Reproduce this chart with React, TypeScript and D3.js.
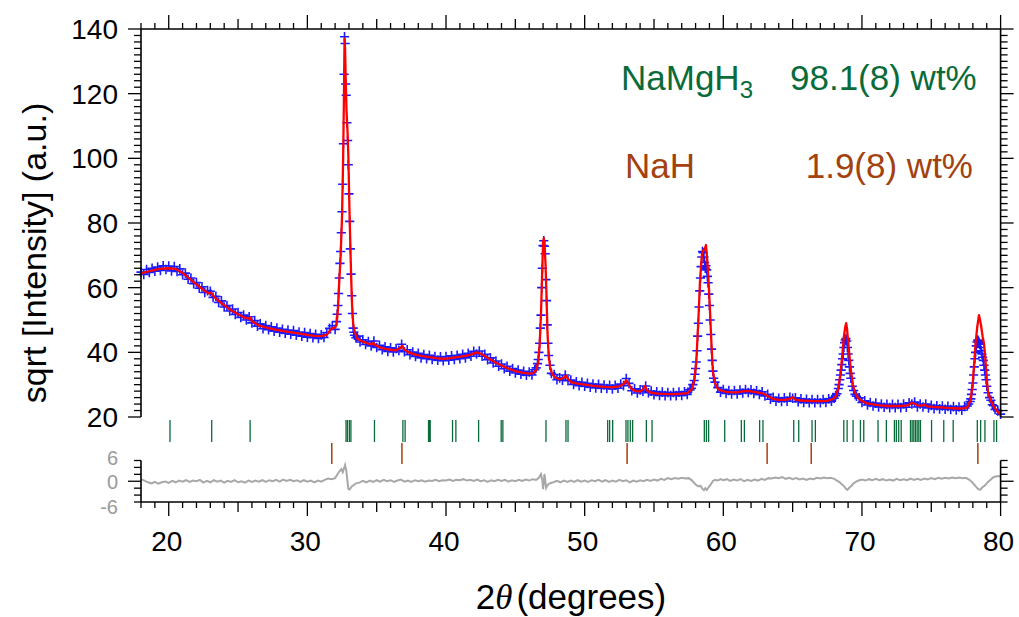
import React from "react";
import * as d3 from "d3";

// ---------- DATA ----------
const xTickLabels = [20, 30, 40, 50, 60, 70, 80];
const yTickLabels = [20, 40, 60, 80, 100, 120, 140];
const diffTickLabels = [6, 0, -6];

// calculated profile [2theta, sqrt(I)]
const calculated: [number, number][] = [
  [18.0, 64.4], [18.5, 65.0], [19.0, 65.5], [19.5, 65.9], [20.0, 66.0], [20.5, 65.8], [21.0, 64.6], [21.5, 62.8],
  [22.0, 61.0], [22.5, 59.3], [22.9, 58.2], [23.05, 58.5], [23.2, 57.5], [23.6, 55.9], [24.0, 54.6], [24.5, 53.0],
  [25.0, 51.8], [25.5, 50.7], [25.8, 50.4], [25.9, 50.8], [26.0, 49.6], [26.5, 48.3], [27.0, 47.7], [27.5, 47.2],
  [28.0, 46.8], [28.5, 46.4], [29.0, 46.1], [29.5, 45.8], [30.0, 45.4], [30.5, 45.1], [31.0, 45.0], [31.4, 45.4],
  [31.6, 46.5], [31.8, 47.5], [32.0, 47.6], [32.1, 48.5], [32.2, 53], [32.3, 62], [32.4, 70], [32.5, 82],
  [32.58, 100], [32.64, 120], [32.68, 137], [32.72, 134], [32.76, 125], [32.82, 115], [32.9, 108], [32.96, 100],
  [33.03, 85], [33.1, 73], [33.16, 63], [33.22, 55], [33.3, 49], [33.4, 46.5], [33.6, 44.2], [34.0, 43.3],
  [34.4, 42.7], [34.65, 42.5], [34.75, 43.0], [34.9, 42.3], [35.2, 41.6], [35.6, 41.1], [36.0, 40.8], [36.4, 40.6],
  [36.7, 41.4], [36.85, 42.0], [37.0, 40.8], [37.3, 40.0], [37.8, 39.3], [38.3, 38.8], [38.8, 38.5], [39.3, 38.2],
  [39.8, 38.0], [40.3, 38.2], [40.8, 38.5], [41.3, 38.8], [41.8, 39.3], [42.2, 40.0], [42.5, 39.6], [43.0, 38.3],
  [43.5, 37.0], [44.0, 35.9], [44.5, 35.0], [45.0, 34.2], [45.5, 33.7], [46.0, 33.4], [46.3, 33.6], [46.5, 34.5],
  [46.65, 37], [46.75, 42], [46.85, 52], [46.93, 64], [47.0, 74], [47.05, 75.3], [47.1, 74], [47.18, 67],
  [47.25, 57], [47.32, 46], [47.4, 39.5], [47.5, 35.5], [47.65, 33.3], [47.9, 32.2], [48.2, 31.6], [48.5, 32.2],
  [48.65, 32.8], [48.8, 31.8], [49.0, 30.8], [49.5, 30.3], [50.0, 30.0], [50.5, 29.7], [51.0, 29.5], [51.5, 29.3],
  [52.0, 29.2], [52.5, 29.5], [52.8, 30.2], [53.0, 31.4], [53.15, 30.3], [53.4, 28.6], [53.7, 28.0], [54.0, 27.9],
  [54.2, 28.5], [54.35, 29.6], [54.5, 28.2], [54.8, 27.5], [55.3, 27.2], [56.0, 27.1], [56.5, 27.1], [57.0, 27.2],
  [57.4, 27.4], [57.7, 28.5], [57.9, 31], [58.05, 37], [58.2, 50], [58.32, 62], [58.45, 70], [58.55, 71.5],
  [58.65, 71.8], [58.75, 73.2], [58.85, 68], [58.95, 61], [59.05, 52], [59.15, 42], [59.25, 34], [59.4, 30.5],
  [59.6, 28.8], [59.8, 28.2], [60.2, 27.8], [60.6, 27.6], [61.0, 27.6], [61.4, 27.9], [61.8, 28.1], [62.2, 27.8],
  [62.6, 27.5], [62.9, 27.2], [63.2, 26.5], [63.6, 25.6], [64.0, 25.3], [64.4, 25.3], [64.8, 25.6], [65.0, 26.1],
  [65.2, 25.4], [65.6, 25.1], [66.0, 25.0], [66.5, 24.9], [67.0, 24.9], [67.5, 25.0], [67.9, 25.5], [68.1, 26.3],
  [68.3, 29], [68.45, 33.5], [68.6, 40], [68.7, 45], [68.8, 48], [68.86, 49], [68.92, 47.5], [69.0, 43.5],
  [69.1, 39], [69.2, 34.5], [69.35, 30], [69.5, 27.5], [69.7, 26], [69.9, 25.2], [70.3, 24.3], [70.8, 23.9],
  [71.3, 23.6], [71.8, 23.4], [72.3, 23.4], [72.8, 23.4], [73.3, 23.6], [73.6, 24.4], [73.8, 24.1], [74.0, 23.6],
  [74.3, 23.5], [74.5, 23.8], [74.7, 23.3], [75.2, 23.1], [75.7, 23.0], [76.2, 22.8], [76.7, 22.7], [77.2, 22.6],
  [77.6, 23.0], [77.85, 25.5], [78.0, 31], [78.1, 37], [78.2, 43], [78.32, 48], [78.44, 51.5], [78.52, 50],
  [78.6, 48], [78.7, 45], [78.8, 42.8], [78.9, 38], [79.0, 32], [79.1, 27.5], [79.3, 25], [79.5, 23.3],
  [79.75, 21.8], [80.0, 20.6],
];

// observed points [2theta, sqrt(I)]
const observed: [number, number][] = [
  [18.0, 64.8], [18.2, 64.1], [18.4, 65.6], [18.6, 64.7], [18.8, 66.0], [19.0, 65.1], [19.2, 66.4], [19.4, 65.3],
  [19.6, 66.8], [19.8, 65.6], [20.0, 66.7], [20.2, 65.2], [20.4, 66.5], [20.6, 65.0], [20.8, 65.8], [21.0, 64.0],
  [21.2, 64.5], [21.4, 62.6], [21.6, 63.0], [21.8, 61.2], [22.0, 61.6], [22.2, 59.8], [22.4, 60.3], [22.6, 58.5],
  [22.8, 59.1], [23.0, 58.9], [23.2, 57.0], [23.4, 57.3], [23.6, 55.4], [23.8, 55.9], [24.0, 54.0], [24.2, 54.5],
  [24.4, 52.8], [24.6, 53.4], [24.8, 51.7], [25.0, 52.3], [25.2, 50.8], [25.4, 51.5], [25.6, 50.0], [25.8, 51.0],
  [26.0, 49.1], [26.2, 49.8], [26.4, 48.1], [26.6, 48.8], [26.8, 47.3], [27.0, 48.3], [27.2, 47.0], [27.4, 47.9],
  [27.6, 46.5], [27.8, 47.5], [28.0, 46.2], [28.2, 47.1], [28.4, 45.9], [28.6, 46.9], [28.8, 45.6], [29.0, 46.7],
  [29.2, 45.3], [29.4, 46.3], [29.6, 45.0], [29.8, 46.1], [30.0, 44.7], [30.2, 45.8], [30.4, 44.5], [30.6, 45.6],
  [30.8, 44.3], [31.0, 45.4], [31.2, 44.6], [31.4, 46.1], [31.6, 47.4], [31.8, 48.2], [32.0, 47.1], [32.1, 49.5],
  [32.15, 51.8], [32.2, 54.5], [32.25, 58.2], [32.3, 63.0], [32.35, 67.5], [32.4, 71.2], [32.45, 77.0], [32.5, 83.5],
  [32.55, 92.0], [32.6, 104.5], [32.65, 126.0], [32.68, 137.6], [32.72, 135.5], [32.76, 123.0], [32.8, 119.5], [32.85, 111.0],
  [32.9, 105.5], [32.95, 98.0], [33.0, 89.0], [33.05, 80.5], [33.1, 72.0], [33.15, 64.2], [33.2, 57.5], [33.25, 52.0],
  [33.3, 47.5], [33.35, 46.2], [33.4, 45.3], [33.5, 44.5], [33.6, 45.0], [33.8, 43.2], [34.0, 43.9], [34.2, 42.4],
  [34.4, 43.3], [34.6, 42.0], [34.8, 43.5], [35.0, 41.5], [35.2, 42.2], [35.4, 40.8], [35.6, 41.7], [35.8, 40.3],
  [36.0, 41.4], [36.2, 40.1], [36.4, 41.2], [36.6, 40.6], [36.8, 42.5], [37.0, 40.2], [37.2, 40.8], [37.4, 39.3],
  [37.6, 40.1], [37.8, 38.7], [38.0, 39.7], [38.2, 38.3], [38.4, 39.3], [38.6, 38.0], [38.8, 39.1], [39.0, 37.8],
  [39.2, 38.7], [39.4, 37.6], [39.6, 38.6], [39.8, 37.4], [40.0, 38.7], [40.2, 37.6], [40.4, 38.9], [40.6, 37.8],
  [40.8, 39.1], [41.0, 38.0], [41.2, 39.4], [41.4, 38.3], [41.6, 39.7], [41.8, 38.8], [42.0, 40.3], [42.2, 39.5],
  [42.4, 40.4], [42.6, 38.8], [42.8, 39.4], [43.0, 37.7], [43.2, 38.3], [43.4, 36.7], [43.6, 37.3], [43.8, 35.7],
  [44.0, 36.4], [44.2, 34.9], [44.4, 35.7], [44.6, 34.2], [44.8, 35.0], [45.0, 33.6], [45.2, 34.5], [45.4, 33.2],
  [45.6, 34.1], [45.8, 32.9], [46.0, 33.9], [46.2, 33.0], [46.4, 34.6], [46.5, 35.2], [46.6, 36.5], [46.65, 37.8],
  [46.7, 40.0], [46.75, 42.8], [46.8, 47.5], [46.85, 51.5], [46.9, 60.0], [46.95, 66.0], [47.0, 73.0], [47.05, 74.5],
  [47.1, 72.8], [47.15, 70.5], [47.2, 62.5], [47.25, 56.0], [47.3, 48.5], [47.35, 42.8], [47.4, 39.0], [47.5, 36.0],
  [47.6, 33.5], [47.8, 33.1], [48.0, 31.5], [48.2, 32.1], [48.4, 31.4], [48.6, 33.0], [48.8, 31.2], [49.0, 31.4],
  [49.2, 30.1], [49.4, 30.9], [49.6, 29.7], [49.8, 30.7], [50.0, 29.5], [50.2, 30.4], [50.4, 29.2], [50.6, 30.2],
  [50.8, 29.0], [51.0, 30.1], [51.2, 28.9], [51.4, 29.9], [51.6, 28.8], [51.8, 29.8], [52.0, 28.7], [52.2, 29.8],
  [52.4, 28.9], [52.6, 30.2], [52.8, 29.7], [53.0, 31.9], [53.2, 30.4], [53.4, 28.1], [53.6, 28.7], [53.8, 27.4],
  [54.0, 28.4], [54.2, 28.0], [54.4, 29.6], [54.6, 27.5], [54.8, 28.0], [55.0, 26.9], [55.2, 27.8], [55.4, 26.7],
  [55.6, 27.7], [55.8, 26.6], [56.0, 27.6], [56.2, 26.6], [56.4, 27.6], [56.6, 26.6], [56.8, 27.7], [57.0, 26.7],
  [57.2, 27.8], [57.4, 27.0], [57.6, 28.4], [57.7, 28.9], [57.8, 30.0], [57.9, 31.3], [57.95, 33.2], [58.0, 35.0],
  [58.05, 37.0], [58.1, 40.5], [58.15, 45.0], [58.2, 49.0], [58.25, 54.0], [58.3, 59.0], [58.35, 63.0], [58.4, 66.5],
  [58.45, 69.5], [58.5, 71.2], [58.55, 70.8], [58.6, 69.5], [58.65, 67.8], [58.7, 66.0], [58.75, 66.8], [58.8, 65.5],
  [58.85, 63.5], [58.9, 61.5], [58.95, 58.0], [59.0, 54.5], [59.05, 50.0], [59.1, 45.5], [59.15, 41.0], [59.2, 37.5],
  [59.25, 34.2], [59.3, 32.0], [59.4, 30.8], [59.6, 29.1], [59.8, 27.7], [60.0, 28.5], [60.2, 27.3], [60.4, 28.2],
  [60.6, 27.1], [60.8, 28.2], [61.0, 27.1], [61.2, 28.3], [61.4, 27.4], [61.6, 28.5], [61.8, 27.6], [62.0, 28.4],
  [62.2, 27.3], [62.4, 28.1], [62.6, 27.0], [62.8, 27.8], [63.0, 26.5], [63.2, 27.0], [63.4, 25.5], [63.6, 26.1],
  [63.8, 24.9], [64.0, 25.8], [64.2, 24.8], [64.4, 25.9], [64.6, 24.9], [64.8, 26.1], [65.0, 25.8], [65.2, 25.9],
  [65.4, 24.7], [65.6, 25.6], [65.8, 24.5], [66.0, 25.5], [66.2, 24.4], [66.4, 25.4], [66.6, 24.4], [66.8, 25.4],
  [67.0, 24.4], [67.2, 25.4], [67.4, 24.5], [67.6, 25.6], [67.8, 24.9], [67.9, 26.0], [68.0, 25.8], [68.1, 26.6],
  [68.2, 27.2], [68.3, 28.8], [68.35, 30.0], [68.4, 31.5], [68.45, 33.0], [68.5, 34.5], [68.55, 36.2], [68.6, 38.0],
  [68.65, 39.5], [68.7, 41.5], [68.75, 43.0], [68.8, 43.8], [68.85, 44.3], [68.9, 43.5], [68.95, 41.5], [69.0, 39.5],
  [69.05, 37.5], [69.1, 35.5], [69.15, 33.5], [69.2, 32.0], [69.3, 29.5], [69.4, 28.2], [69.5, 27.0], [69.6, 26.4],
  [69.8, 25.9], [70.0, 24.5], [70.2, 25.0], [70.4, 23.7], [70.6, 24.5], [70.8, 23.4], [71.0, 24.3], [71.2, 23.1],
  [71.4, 24.0], [71.6, 23.0], [71.8, 23.9], [72.0, 22.9], [72.2, 23.9], [72.4, 22.9], [72.6, 23.9], [72.8, 22.9],
  [73.0, 24.0], [73.2, 23.0], [73.4, 24.4], [73.6, 24.0], [73.8, 24.6], [74.0, 23.1], [74.2, 24.0], [74.4, 23.1],
  [74.6, 24.0], [74.8, 22.8], [75.0, 23.6], [75.2, 22.6], [75.4, 23.5], [75.6, 22.5], [75.8, 23.4], [76.0, 22.4],
  [76.2, 23.3], [76.4, 22.3], [76.6, 23.2], [76.8, 22.2], [77.0, 23.1], [77.2, 22.1], [77.4, 23.3], [77.6, 23.4],
  [77.7, 24.0], [77.8, 24.8], [77.85, 25.6], [77.9, 27.0], [77.95, 28.5], [78.0, 30.5], [78.05, 33.0], [78.1, 35.5],
  [78.15, 38.0], [78.2, 40.0], [78.25, 42.0], [78.3, 43.2], [78.35, 43.8], [78.4, 43.5], [78.45, 43.0], [78.5, 42.5],
  [78.55, 41.5], [78.6, 40.5], [78.65, 39.5], [78.7, 38.5], [78.75, 37.5], [78.8, 36.0], [78.85, 34.5], [78.9, 33.0],
  [78.95, 31.5], [79.0, 29.5], [79.1, 27.5], [79.2, 26.0], [79.3, 25.2], [79.4, 23.8], [79.5, 23.5], [79.6, 22.3],
  [79.8, 21.9], [80.0, 20.9],
];

// difference curve [2theta, obs-calc]
const difference: [number, number][] = [
  [18.0, 0.6], [18.25, 0.2], [18.5, -0.3], [18.75, -0.6], [19.0, -0.2], [19.25, -0.7], [19.5, -0.3], [19.75, -0.1],
  [20.0, -0.5], [20.25, 0.1], [20.5, -0.3], [20.75, 0.2], [21.0, -0.1], [21.25, 0.3], [21.5, -0.2], [21.75, 0.2],
  [22.0, 0.0], [22.25, 0.4], [22.5, -0.4], [22.75, 0.1], [23.0, -0.3], [23.25, 0.3], [23.5, -0.1], [23.75, 0.2],
  [24.0, -0.4], [24.25, 0.1], [24.5, -0.2], [24.75, 0.3], [25.0, -0.3], [25.25, 0.0], [25.5, -0.4], [25.75, 0.2],
  [26.0, -0.2], [26.25, 0.2], [26.5, -0.1], [26.75, 0.3], [27.0, -0.2], [27.25, 0.3], [27.5, 0.0], [27.75, 0.4],
  [28.0, -0.1], [28.25, 0.5], [28.5, 0.1], [28.75, 0.4], [29.0, 0.0], [29.25, 0.3], [29.5, -0.2], [29.75, 0.3],
  [30.0, -0.1], [30.25, 0.2], [30.5, -0.3], [30.75, 0.2], [31.0, -0.1], [31.25, 0.4], [31.5, 0.8], [31.75, 0.6],
  [32.0, 0.9], [32.15, 1.9], [32.3, 2.8], [32.45, 3.5], [32.55, 2.6], [32.65, 3.8], [32.72, 4.7], [32.8, 3.3],
  [32.88, 0.5], [32.95, -2.2], [33.05, -2.4], [33.2, -1.5], [33.35, -1.1], [33.5, -0.6], [33.75, -0.4], [34.0, 0.1],
  [34.25, -0.3], [34.5, 0.2], [34.75, -0.2], [35.0, 0.3], [35.25, -0.1], [35.5, 0.4], [35.75, 0.0], [36.0, 0.3],
  [36.25, -0.2], [36.5, 0.2], [36.75, 0.5], [37.0, -0.1], [37.25, 0.2], [37.5, -0.2], [37.75, 0.3], [38.0, 0.0],
  [38.25, 0.3], [38.5, -0.1], [38.75, 0.2], [39.0, 0.1], [39.25, 0.4], [39.5, 0.0], [39.75, 0.3], [40.0, 0.2],
  [40.25, 0.5], [40.5, 0.1], [40.75, 0.4], [41.0, 0.3], [41.25, 0.6], [41.5, 0.2], [41.75, 0.4], [42.0, 0.1],
  [42.25, 0.5], [42.5, 0.0], [42.75, 0.3], [43.0, -0.2], [43.25, 0.3], [43.5, 0.0], [43.75, 0.4], [44.0, 0.1],
  [44.25, 0.4], [44.5, -0.1], [44.75, 0.3], [45.0, 0.0], [45.25, 0.4], [45.5, 0.1], [45.75, 0.5], [46.0, 0.2],
  [46.25, 0.6], [46.5, 0.4], [46.7, 1.0], [46.85, 2.1], [46.95, 0.2], [47.0, -2.3], [47.05, -0.5], [47.1, 2.1],
  [47.17, 0.0], [47.22, -1.9], [47.3, -1.3], [47.4, -0.8], [47.55, -0.5], [47.75, -0.3], [48.0, 0.1], [48.25, -0.3],
  [48.5, 0.2], [48.75, -0.2], [49.0, 0.2], [49.25, -0.2], [49.5, 0.3], [49.75, -0.1], [50.0, 0.2], [50.25, -0.2],
  [50.5, 0.3], [50.75, 0.0], [51.0, 0.4], [51.25, -0.1], [51.5, 0.3], [51.75, -0.2], [52.0, 0.2], [52.25, -0.1],
  [52.5, 0.4], [52.75, 0.0], [53.0, 0.3], [53.25, -0.3], [53.5, 0.2], [53.75, -0.1], [54.0, 0.3], [54.25, 0.0],
  [54.5, 0.4], [54.75, 0.1], [55.0, 0.5], [55.25, 0.2], [55.5, 0.7], [55.75, 0.4], [56.0, 0.9], [56.25, 0.6],
  [56.5, 0.9], [56.75, 0.7], [57.0, 1.0], [57.25, 0.8], [57.5, 0.9], [57.75, 0.2], [57.9, -0.5], [58.05, -1.1],
  [58.2, -1.5], [58.35, -1.3], [58.5, -2.2], [58.6, -2.6], [58.7, -2.0], [58.8, -2.5], [58.95, -1.7], [59.1, -0.9],
  [59.25, 0.1], [59.4, 0.4], [59.6, 0.2], [59.8, 0.6], [60.0, 0.3], [60.25, 0.6], [60.5, 0.1], [60.75, 0.5],
  [61.0, 0.2], [61.25, 0.6], [61.5, 0.0], [61.75, 0.4], [62.0, 0.1], [62.25, 0.5], [62.5, 0.2], [62.75, 0.7],
  [63.0, 0.4], [63.25, 0.9], [63.5, 0.8], [63.75, 1.1], [64.0, 0.9], [64.25, 1.2], [64.5, 0.7], [64.75, 1.0],
  [65.0, 0.6], [65.25, 0.9], [65.5, 0.5], [65.75, 0.8], [66.0, 0.4], [66.25, 0.8], [66.5, 0.6], [66.75, 1.0],
  [67.0, 0.8], [67.25, 1.1], [67.5, 0.9], [67.75, 1.0], [68.0, 0.7], [68.2, 0.2], [68.4, -0.3], [68.55, -0.9],
  [68.7, -1.4], [68.85, -2.2], [68.95, -2.5], [69.1, -1.8], [69.25, -1.3], [69.4, -0.6], [69.55, -0.2], [69.75, 0.2],
  [70.0, 0.5], [70.25, 0.2], [70.5, 0.6], [70.75, 0.3], [71.0, 0.7], [71.25, 0.3], [71.5, 0.6], [71.75, 0.2],
  [72.0, 0.5], [72.25, 0.2], [72.5, 0.7], [72.75, 0.3], [73.0, 0.6], [73.25, 0.3], [73.5, 0.8], [73.75, 0.4],
  [74.0, 0.7], [74.25, 0.4], [74.5, 0.8], [74.75, 0.5], [75.0, 0.9], [75.25, 0.6], [75.5, 1.0], [75.75, 0.7],
  [76.0, 1.0], [76.25, 0.8], [76.5, 1.1], [76.75, 0.9], [77.0, 1.1], [77.25, 0.9], [77.5, 1.0], [77.75, 0.4],
  [77.95, -0.3], [78.1, -1.0], [78.25, -1.7], [78.4, -2.3], [78.55, -2.4], [78.7, -1.7], [78.85, -1.3], [79.0, -0.6],
  [79.15, 0.0], [79.3, 0.5], [79.45, 1.1], [79.6, 1.3], [79.8, 1.5], [80.0, 1.4],
];

// Bragg reflection positions
const braggNaMgH3 = [
  20.09, 23.1, 25.87, 32.79, 32.89, 33.03, 33.14, 34.84, 36.89, 37.05, 38.74, 38.8, 38.86, 40.47, 40.71, 42.35,
  43.98, 44.1, 47.21, 48.65, 48.8, 51.66, 51.8, 52.02, 52.98, 53.12, 53.29, 53.46, 54.45, 54.86, 58.63, 58.78,
  58.94, 60.1, 61.3, 61.52, 62.62, 62.86, 65.08, 65.44, 66.4, 66.64, 68.69, 68.93, 69.36, 69.89, 70.13, 71.16,
  71.76, 72.34, 72.48, 72.65, 72.83, 73.5, 73.62, 73.74, 73.86, 73.98, 74.1, 74.22, 75.02, 75.9, 76.58, 78.32,
  78.56, 78.87, 79.52, 79.71,
];
const braggNaH = [31.76, 36.82, 53.06, 63.16, 66.34, 78.36];

const phaseLabels = ["NaMgH", "NaH"];
const phaseWt = ["98.1(8) wt%", "1.9(8) wt%"];

// ---------- CHART ----------
const W = 1019;
const H = 617;
const FONT = "'Liberation Sans', Arial, Helvetica, sans-serif";
const GREEN = "#0a6b3a";
const BROWN = "#a3410f";
const GRAY = "#a8a8a8";

export default function App() {
  const x = d3.scaleLinear().domain([18, 80]).range([141, 1000.6]);
  const y = d3.scaleLinear().domain([20, 140]).range([417, 29]);
  const yd = d3.scaleLinear().domain([-6, 6]).range([502, 460.5]);

  const L = x(18), R = x(80), T = y(140), B = yd(-6);

  const calcPath = d3.line<[number, number]>().x(d => x(d[0])).y(d => y(d[1]))(calculated) || "";
  const diffPath = d3.line<[number, number]>().x(d => x(d[0])).y(d => yd(d[1]))(difference) || "";
  const cw = 4.6, ch = 4.8;
  const crossPath = observed
    .map(d => {
      const px = x(d[0]), py = y(d[1]);
      return `M${px - cw},${py}h${2 * cw}M${px},${py - ch}v${2 * ch}`;
    })
    .join("");

  const xMinor = d3.range(18, 80.01, 1);
  const tickLen = (v: number) => (Math.abs(v % 10) < 1e-6 ? 14 : Math.abs(v % 5) < 1e-6 ? 10 : 6);
  const yMinor = d3.range(20, 140.01, 2);
  const yTickLen = (v: number) => (Math.abs(v % 20) < 1e-6 ? 13 : 7);
  const dMinor = d3.range(-6, 6.01, 2);
  const diffLabelY = (v: number) => (v > 0 ? 457.5 : v < 0 ? 507 : 482);

  return (
    <svg width={W} height={H} style={{ position: "absolute", left: 0, top: 0, background: "#fff" }} fontFamily={FONT}>
      <rect width={W} height={H} fill="#fff" />
      {/* observed crosses */}
      <path d={crossPath} stroke="#1a1aff" strokeWidth={1.6} fill="none" />
      {/* calculated */}
      <path d={calcPath} stroke="#ff0000" strokeWidth={2.3} fill="none" strokeLinejoin="round" />
      {/* difference */}
      <path d={diffPath} stroke={GRAY} strokeWidth={2} fill="none" />
      {/* bragg ticks */}
      {braggNaMgH3.map((p, i) => (
        <line key={"g" + i} x1={x(p)} x2={x(p)} y1={420} y2={442} stroke={GREEN} strokeWidth={1.3} />
      ))}
      {braggNaH.map((p, i) => (
        <line key={"b" + i} x1={x(p)} x2={x(p)} y1={443} y2={464} stroke={BROWN} strokeWidth={1.5} />
      ))}

      {/* axes frame */}
      <g stroke="#000" strokeWidth={1.6} fill="none">
        <line x1={L} x2={R} y1={T} y2={T} />
        <line x1={L} x2={R} y1={B} y2={B} />
        <line x1={L} x2={L} y1={T} y2={y(20)} />
        <line x1={R} x2={R} y1={T} y2={y(20)} />
        <line x1={L} x2={L} y1={yd(6)} y2={B} />
        <line x1={R} x2={R} y1={yd(6)} y2={B} />
      </g>
      <g stroke="#000" strokeWidth={1.3}>
        {xMinor.map(v => (
          <g key={"xt" + v}>
            <line x1={x(v)} x2={x(v)} y1={B} y2={B + tickLen(v)} />
            <line x1={x(v)} x2={x(v)} y1={T} y2={T - tickLen(v)} />
          </g>
        ))}
        {yMinor.map(v => (
          <g key={"yt" + v}>
            <line x1={L} x2={L - yTickLen(v)} y1={y(v)} y2={y(v)} />
            <line x1={R} x2={R + yTickLen(v)} y1={y(v)} y2={y(v)} />
          </g>
        ))}
        {dMinor.map(v => (
          <g key={"dt" + v}>
            <line x1={L} x2={L - (v === 0 ? 13 : 7)} y1={yd(v)} y2={yd(v)} />
            <line x1={R} x2={R + (v === 0 ? 13 : 7)} y1={yd(v)} y2={yd(v)} />
          </g>
        ))}
      </g>

      {/* tick labels */}
      {xTickLabels.map(v => (
        <text key={"xl" + v} x={x(v) - 2} y={551} fontSize={28} textAnchor="middle">{v}</text>
      ))}
      {yTickLabels.map(v => (
        <text key={"yl" + v} x={118} y={y(v)} dy="0.36em" fontSize={28} textAnchor="end">{v}</text>
      ))}
      {diffTickLabels.map(v => (
        <text key={"dl" + v} x={118} y={diffLabelY(v)} dy="0.36em" fontSize={20} textAnchor="end" fill="#9a9a9a">
          {v}
        </text>
      ))}

      {/* axis titles */}
      <text transform={`translate(46,${253}) rotate(-90)`} fontSize={34} textAnchor="middle">
        sqrt [Intensity] (a.u.)
      </text>
      <text x={571} y={609} fontSize={35} textAnchor="middle">
        <tspan>2</tspan>
        <tspan fontFamily="'Liberation Serif', 'DejaVu Serif', serif" fontStyle="italic">θ</tspan>
        <tspan dx={4}>(degrees)</tspan>
      </text>

      {/* phase legend */}
      <text x={621} y={90} fontSize={35} fill={GREEN}>
        {phaseLabels[0]}
        <tspan dy={8} fontSize={24}>3</tspan>
      </text>
      <text x={790} y={90} fontSize={35} fill={GREEN}>{phaseWt[0]}</text>
      <text x={625} y={178} fontSize={35} fill={BROWN}>{phaseLabels[1]}</text>
      <text x={973} y={178} fontSize={35} fill={BROWN} textAnchor="end">{phaseWt[1]}</text>
    </svg>
  );
}
